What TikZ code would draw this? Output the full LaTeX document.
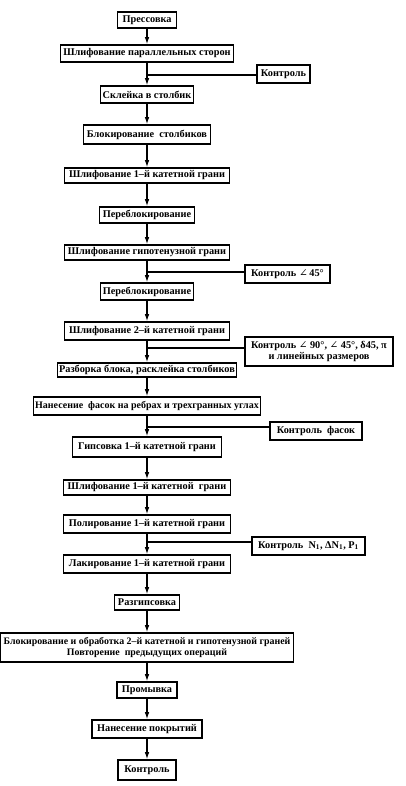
\documentclass[tikz,border=0pt]{standalone}
\usepackage{fontspec}
\setmainfont{Liberation Serif}
\newfontfamily\symf{DejaVu Serif}
\newcommand{\ang}{{\symf\mdseries ∠}}
\usetikzlibrary{arrows.meta}
\begin{document}
\begin{tikzpicture}[x=1pt,y=-1pt,
  box/.style={draw,line width=1.6pt,inner sep=0pt,font=\bfseries\fontsize{10.3}{11.5}\selectfont,align=center},
  arr/.style={line width=1.1pt,-{Latex[length=7pt,width=4.5pt]}},
  ln/.style={line width=1.1pt}]
\useasboundingbox (0,0) rectangle (406,786);
\def\ax{147}
% main column
\node[box,minimum width=59pt,minimum height=16pt] (b1) at (\ax,20) {Прессовка};
\node[box,minimum width=173pt,minimum height=17pt] (b2) at (\ax,53.5) {Шлифование параллельных сторон};
\node[box,minimum width=93pt,minimum height=17pt] (b3) at (\ax,94.5) {Склейка в столбик};
\node[box,minimum width=127pt,minimum height=19pt] (b4) at (\ax,134.5) {Блокирование \ столбиков};
\node[box,minimum width=165pt,minimum height=15pt] (b5) at (\ax,175.5) {Шлифование 1–й катетной грани};
\node[box,minimum width=95pt,minimum height=16pt] (b6) at (\ax,215) {Переблокирование};
\node[box,minimum width=165pt,minimum height=15pt] (b7) at (\ax,252.5) {Шлифование гипотенузной грани};
\node[box,minimum width=93pt,minimum height=17pt] (b8) at (\ax,291.5) {Переблокирование};
\node[box,minimum width=165pt,minimum height=18pt] (b9) at (\ax,331) {Шлифование 2–й катетной грани};
\node[box,minimum width=179pt,minimum height=14pt] (b10) at (\ax,370) {Разборка блока, расклейка столбиков};
\node[box,minimum width=227pt,minimum height=18pt,font=\bfseries\fontsize{10}{11.5}\selectfont] (b11) at (\ax,406) {Нанесение \ фасок на ребрах и трехгранных углах};
\node[box,minimum width=149pt,minimum height=20pt] (b12) at (\ax,447) {Гипсовка 1–й катетной грани};
\node[box,minimum width=167pt,minimum height=15pt] (b13) at (\ax,487.5) {Шлифование 1–й катетной \ грани};
\node[box,minimum width=167pt,minimum height=18pt] (b14) at (\ax,524) {Полирование 1–й катетной грани};
\node[box,minimum width=167pt,minimum height=18pt] (b15) at (\ax,564) {Лакирование 1–й катетной грани};
\node[box,minimum width=65pt,minimum height=15pt] (b16) at (\ax,602.5) {Разгипсовка};
\node[box,minimum width=293pt,minimum height=29pt,font=\bfseries\fontsize{9.9}{11.5}\selectfont] (b17) at (\ax,647.5) {Блокирование и обработка 2–й катетной и гипотенузной граней\\Повторение \ предыдущих операций};
\node[box,minimum width=60pt,minimum height=16pt] (b18) at (\ax,690) {Промывка};
\node[box,minimum width=110pt,minimum height=18pt] (b19) at (\ax,729) {Нанесение покрытий};
\node[box,minimum width=58pt,minimum height=20pt] (b20) at (\ax,770) {Контроль};
% control boxes
\node[box,minimum width=53pt,minimum height=18pt] (k1) at (283.5,74) {Контроль};
\node[box,minimum width=85pt,minimum height=18pt] (k2) at (287.5,274) {Контроль \ang\,45°};
\node[box,minimum width=148pt,minimum height=29pt] (k3) at (319,351.5) {Контроль \ang\ 90°, \ang\ 45°, δ45, π\\и линейных размеров};
\node[box,minimum width=92pt,minimum height=18pt] (k4) at (316,431) {Контроль \ фасок};
\node[box,minimum width=113pt,minimum height=18pt] (k5) at (308.5,546) {Контроль \ N\textsubscript{1}, ΔN\textsubscript{1}, P\textsubscript{1}};
% junctions
\coordinate (j1) at (\ax,75);
\coordinate (j2) at (\ax,272);
\coordinate (j3) at (\ax,348);
\coordinate (j4) at (\ax,427);
\coordinate (j5) at (\ax,542);
% main arrows
\foreach \a/\b in {b1/b2,b2/b3,b3/b4,b4/b5,b5/b6,b6/b7,b7/b8,b8/b9,b9/b10,b10/b11,b11/b12,b12/b13,b13/b14,b14/b15,b15/b16,b16/b17,b17/b18,b18/b19,b19/b20}
  \draw[arr] (\a.south) -- (\b.north);
% control connectors
\draw[ln] (k1.west |- j1) -- (j1);
\draw[ln] (k2.west |- j2) -- (j2);
\draw[ln] (k3.west |- j3) -- (j3);
\draw[ln] (k4.west |- j4) -- (j4);
\draw[ln] (k5.west |- j5) -- (j5);
\end{tikzpicture}
\end{document}
